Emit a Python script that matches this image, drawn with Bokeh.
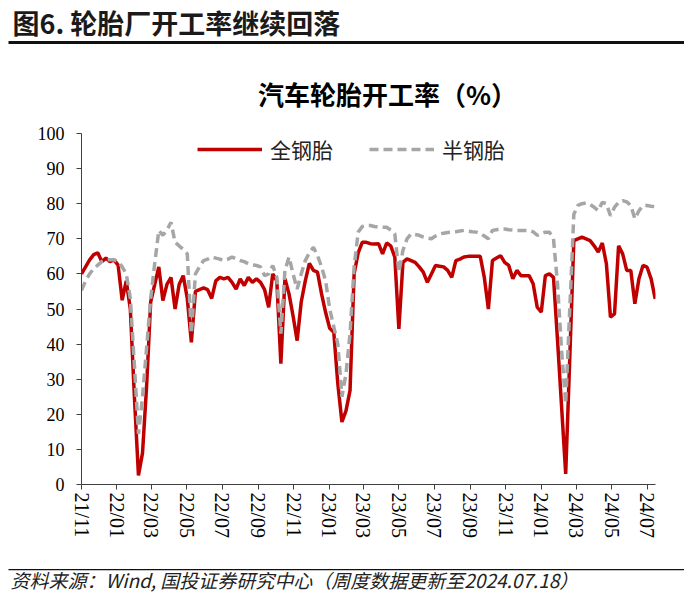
import pandas as pd
from bokeh.plotting import figure
from bokeh.layouts import column
from bokeh.models import Range1d, FixedTicker, Label, BoxAnnotation, Legend, LegendItem
from bokeh.embed import file_html
from bokeh.resources import INLINE

# ---------------- data ----------------
start_date = "2021-11-04"   # weekly data, last point 2024-07-18
quangang = [60, 62, 64, 65.5, 66, 63.5, 64.5, 63.5, 64, 62.5,
            52.5, 58, 50, 25, 2.6, 9, 28, 52, 57, 62,
            52.4, 57, 59, 50, 57, 59.5, 53, 40.5, 55, 55.5,
            56, 55.5, 53, 58, 59, 58.6, 59, 57.6, 55.7, 58.6,
            56.7, 59, 57.6, 58.6, 57.6, 55.5, 50.5, 60, 58, 34.4,
            58.6, 54.3, 48, 41, 52, 58, 63, 61, 60.5, 54.3,
            49, 44.5, 43.4, 28.7, 17.8, 21, 26.8, 60, 66, 69,
            69, 68.6, 68.5, 68.6, 65.7, 68.8, 68, 64.8, 44.3, 63.3,
            64.3, 63.8, 63.3, 62, 60.5, 57.6, 60, 62.4, 62.2, 62,
            61, 59, 63.8, 64.2, 64.8, 65, 65, 65, 65, 59,
            50, 63.8, 64.5, 65.2, 63.3, 62.4, 58.6, 61, 59.5, 59.5,
            59.5, 57.2, 50.5, 49.1, 59.5, 60, 59, 41, 22, 3,
            36, 69.5, 70, 70.5, 70, 69.5, 68, 66.2, 68.8, 62.9,
            47.7, 48.6, 68, 65.7, 61, 61, 51.5, 58.6, 62.4, 61.9,
            58.6, 52.9]
bangang = [55.3, 58, 60, 61.5, 62.5, 63.5, 64, 64, 64, 63.5,
           62, 60, 53, 34, 14.4, 25, 39, 53, 63, 72.4,
           71, 72.5, 74.7, 69, 68, 67, 65.7, 43, 60, 62,
           63.8, 64.2, 64.8, 64.5, 64.2, 63.8, 64.2, 64.8, 64.3, 63.8,
           63.5, 62.9, 62.6, 62.4, 62, 59.5, 60, 62.4, 59, 43,
           61, 64.8, 60, 55.7, 60, 63.8, 66, 67.6, 65.2, 62,
           58, 50, 45, 40, 25, 31.5, 43, 62, 71.9, 73.5,
           73.8, 73.8, 73.5, 73.3, 73.3, 73.3, 72.5, 71.4, 60.5, 66.7,
           70, 71.4, 71.2, 71, 70.5, 70.2, 70, 70.8, 71.4, 71.6,
           71.8, 71.9, 72, 72.2, 72.4, 72.2, 72, 71.9, 71.5, 70.8,
           70, 72.4, 72.6, 72.8, 72.8, 72.6, 72.5, 72.4, 72.4, 72.4,
           72.4, 72, 71, 71.5, 71.9, 71.9, 70, 57, 38, 23,
           50, 77, 79.5, 80, 80.2, 79.8, 79, 78, 80.4, 80,
           76.6, 79, 80.4, 80.9, 80.5, 79.5, 75.7, 78, 79.5, 79.5,
           79.3, 79.2]
tick_labels = ["21/11", "22/01", "22/03", "22/05", "22/07", "22/09", "22/11",
               "23/01", "23/03", "23/05", "23/07", "23/09", "23/11",
               "24/01", "24/03", "24/05", "24/07"]
y_ticks = [0, 10, 20, 30, 40, 50, 60, 70, 80, 90, 100]
series_names = ["全钢胎", "半钢胎"]
header_text = "图6. 轮胎厂开工率继续回落"
chart_title = "汽车轮胎开工率（%）"
source_text = "资料来源：Wind, 国投证券研究中心（周度数据更新至2024.07.18）"

dates = pd.date_range(start_date, periods=len(quangang), freq="7D")

W = 684
HH, HM, HF = 120, 434, 40
CJK = "Noto Sans CJK SC"


def blank_fig(h):
    f = figure(width=W, height=h, output_backend="svg", toolbar_location=None,
               x_range=Range1d(0, W), y_range=Range1d(h, 0),
               x_axis_location=None, y_axis_location=None,
               min_border=0, min_border_left=0, min_border_right=0,
               min_border_top=0, min_border_bottom=0, frame_align=False)
    f.outline_line_color = None
    f.grid.visible = False
    f.background_fill_color = "white"
    f.border_fill_color = "white"
    return f

# ---------------- header ----------------
hdr = blank_fig(HH)
hdr.add_layout(Label(x=12, y=22, text=header_text, text_font=CJK,
                     text_font_size="27px", text_font_style="bold",
                     text_color="#1a1a1a", text_baseline="middle", text_align="left"))
hdr.add_layout(BoxAnnotation(left=8, right=W, top=40.5, bottom=43.5,
                             fill_color="#111111", fill_alpha=1, line_color=None))
hdr.add_layout(Label(x=387, y=93, text=chart_title, text_font=CJK,
                     text_font_size="26px", text_font_style="bold",
                     text_color="black", text_baseline="middle", text_align="center"))

# ---------------- main chart ----------------
# frame: page x 81..655, y 133..484 ; this figure starts at page y = HH
p = figure(width=W, height=HM, x_axis_type="datetime",
           output_backend="svg", toolbar_location=None,
           x_range=Range1d(dates[0], dates[-1] + pd.Timedelta(hours=12)),
           y_range=Range1d(0, 100),
           min_border_left=81, min_border_right=W - 655,
           min_border_top=133 - HH, min_border_bottom=HH + HM - 484,
           frame_align=False)
p.outline_line_color = None
p.grid.visible = False
p.background_fill_color = "white"
p.border_fill_color = "white"

r1 = p.line(dates, quangang, line_color="#C00000", line_width=3.5)
r2 = p.line(dates, bangang, line_color="#A6A6A6", line_width=3.5, line_dash="9 5")

ya = p.yaxis[0]
ya.ticker = FixedTicker(ticks=y_ticks)
ya.axis_line_color = "#404040"
ya.major_tick_line_color = "#404040"
ya.major_tick_out = 5
ya.major_tick_in = 0
ya.minor_tick_line_color = None
ya.major_label_text_font = "Liberation Serif"
ya.major_label_text_font_size = "18px"
ya.major_label_text_color = "black"
ya.major_label_standoff = 12

tick_ms = []
for lab in tick_labels:
    yy, mm = lab.split("/")
    tick_ms.append(int(pd.Timestamp(f"20{yy}-{mm}-04").value // 10**6))
xa = p.xaxis[0]
xa.ticker = FixedTicker(ticks=tick_ms)
xa.major_label_overrides = {t: lab for t, lab in zip(tick_ms, tick_labels)}
xa.major_label_orientation = "vertical"
xa.axis_line_color = "#404040"
xa.major_tick_line_color = "#404040"
xa.major_tick_out = 5
xa.major_tick_in = 0
xa.minor_tick_line_color = None
xa.major_label_text_font = "Liberation Serif"
xa.major_label_text_font_size = "20px"
xa.major_label_text_color = "black"
xa.major_label_standoff = 3

legend = Legend(items=[LegendItem(label=series_names[0], renderers=[r1]),
                       LegendItem(label=series_names[1], renderers=[r2])],
                orientation="horizontal", location=(116, 320),
                glyph_width=65, glyph_height=22, label_height=22,
                label_standoff=8, spacing=36, padding=0, margin=0,
                border_line_color=None, background_fill_alpha=0,
                label_text_font=CJK, label_text_font_size="21px",
                label_text_color="#222222")
p.add_layout(legend)

# ---------------- footer (starts at page y = HH + HM = 554) ----------------
ftr = blank_fig(HF)
ftr.add_layout(BoxAnnotation(left=8, right=W, top=14.5, bottom=15.7,
                             fill_color="#111111", fill_alpha=1, line_color=None))
ftr.add_layout(Label(x=10, y=24.5, text=source_text, text_font=CJK,
                     text_font_size="19px", text_font_style="italic",
                     text_color="#222222", text_baseline="middle", text_align="left"))

layout = column(hdr, p, ftr, spacing=0)
open("out.html", "w").write(file_html(layout, INLINE))
